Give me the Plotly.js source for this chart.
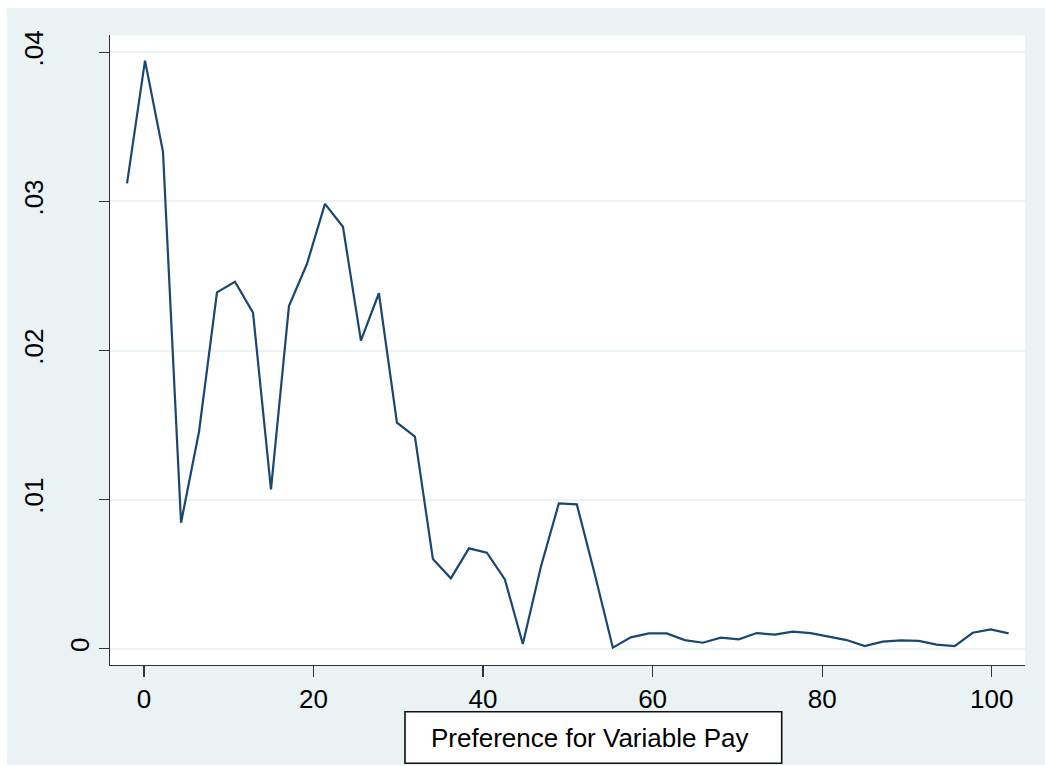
<!DOCTYPE html>
<html>
<head>
<meta charset="utf-8">
<script src="https://cdn.plot.ly/plotly-3.0.1.min.js"></script>
<style>
  html, body { margin: 0; padding: 0; background: #ffffff; }
  #chart { width: 1045px; height: 766px; }
</style>
</head>
<body>
<div id="chart"></div>
<script>
// Kernel density estimate points (x = preference, y = density)
const prefX = [-2.00, 0.12, 2.24, 4.37, 6.49, 8.61, 10.73, 12.86, 14.98, 17.10,
  19.22, 21.35, 23.47, 25.59, 27.71, 29.84, 31.96, 34.08, 36.20, 38.33,
  40.45, 42.57, 44.69, 46.82, 48.94, 51.06, 53.18, 55.31, 57.43, 59.55,
  61.67, 63.80, 65.92, 68.04, 70.16, 72.29, 74.41, 76.53, 78.65, 80.78,
  82.90, 85.02, 87.14, 89.27, 91.39, 93.51, 95.63, 97.76, 99.88, 102.00];

const densityY = [0.03121, 0.03944, 0.03333, 0.00845, 0.01455, 0.02390, 0.02461, 0.02254, 0.01069, 0.02298,
  0.02580, 0.02983, 0.02830, 0.02066, 0.02384, 0.01516, 0.01422, 0.00602, 0.00472, 0.00673,
  0.00644, 0.00465, 0.00032, 0.00550, 0.00975, 0.00968, 0.00500, 0.00007, 0.00076, 0.00103,
  0.00103, 0.00058, 0.00040, 0.00074, 0.00063, 0.00105, 0.00094, 0.00114, 0.00105, 0.00080,
  0.00058, 0.00018, 0.00047, 0.00056, 0.00052, 0.00027, 0.00018, 0.00107, 0.00130, 0.00103];

const xTickVals = [0, 20, 40, 60, 80, 100];
const xTickText = ['0', '20', '40', '60', '80', '100'];
const yTickVals = [0, 0.01, 0.02, 0.03, 0.04];
const yTickText = ['', '.01', '.02', '.03', '.04'];
const yZeroVals = [0];
const yZeroText = ['0'];
const xTitle = 'Preference for Variable Pay';

const FONT = 'Liberation Sans, Arial, Helvetica, sans-serif';
const yRange = [-0.001093, 0.04116];

const traces = [
  {
    type: 'scatter',
    mode: 'lines',
    x: prefX,
    y: densityY,
    line: { color: '#1a476f', width: 2.2 },
    showlegend: false,
    hoverinfo: 'x+y'
  },
  {
    type: 'scatter',
    mode: 'lines',
    x: [],
    y: [],
    yaxis: 'y2',
    showlegend: false,
    hoverinfo: 'skip'
  }
];

const layout = {
  width: 1045,
  height: 766,
  margin: { l: 110, r: 20, t: 35, b: 101, pad: 0 },
  paper_bgcolor: '#ffffff',
  plot_bgcolor: '#ffffff',
  font: { family: FONT, color: '#000000', size: 26 },
  showlegend: false,
  xaxis: {
    range: [-4.01, 103.93],
    tickmode: 'array',
    tickvals: xTickVals,
    ticktext: xTickText,
    ticks: 'outside',
    ticklen: 11,
    tickwidth: 1.2,
    tickcolor: '#333333',
    showline: true,
    linecolor: '#333333',
    linewidth: 1.2,
    showgrid: false,
    zeroline: false,
    tickfont: { family: FONT, size: 26, color: '#000000' }
  },
  yaxis: {
    range: yRange,
    tickmode: 'array',
    tickvals: yTickVals,
    ticktext: yTickText,
    ticks: 'outside',
    ticklen: 10,
    tickwidth: 1.2,
    tickcolor: '#333333',
    showline: true,
    linecolor: '#333333',
    linewidth: 1.2,
    showgrid: true,
    gridcolor: '#eaf2f3',
    gridwidth: 2,
    zeroline: false,
    tickangle: -90,
    ticklabelstandoff: 45,
    tickfont: { family: FONT, size: 26, color: '#000000' }
  },
  yaxis2: {
    overlaying: 'y',
    side: 'left',
    anchor: 'x',
    range: yRange,
    tickmode: 'array',
    tickvals: yZeroVals,
    ticktext: yZeroText,
    ticks: '',
    showline: false,
    showgrid: false,
    zeroline: false,
    tickangle: -90,
    ticklabelstandoff: 15,
    tickfont: { family: FONT, size: 26, color: '#000000' }
  },
  annotations: [
    {
      xref: 'paper', yref: 'paper',
      x: 0.5235, y: -0.1151,
      xanchor: 'center', yanchor: 'middle',
      text: xTitle,
      showarrow: false,
      font: { family: FONT, size: 26, color: '#000000' }
    }
  ],
  shapes: [
    {
      type: 'rect', xref: 'paper', yref: 'paper', layer: 'below',
      x0: -0.1126, x1: 1.03, y0: -0.1587, y1: 1.0429,
      fillcolor: '#eaf2f3', line: { width: 0 }
    },
    {
      type: 'rect', xref: 'paper', yref: 'paper', layer: 'below',
      x0: 0, x1: 1, y0: 0, y1: 1,
      fillcolor: '#ffffff', line: { width: 0 }
    },
    {
      type: 'rect', xref: 'paper', yref: 'paper', layer: 'below',
      x0: 0.3224, x1: 0.7341, y0: -0.156, y1: -0.0741,
      fillcolor: '#ffffff', line: { color: '#111111', width: 1.6 }
    }
  ]
};

Plotly.newPlot('chart', traces, layout, { displayModeBar: false, staticPlot: true });
</script>
</body>
</html>
